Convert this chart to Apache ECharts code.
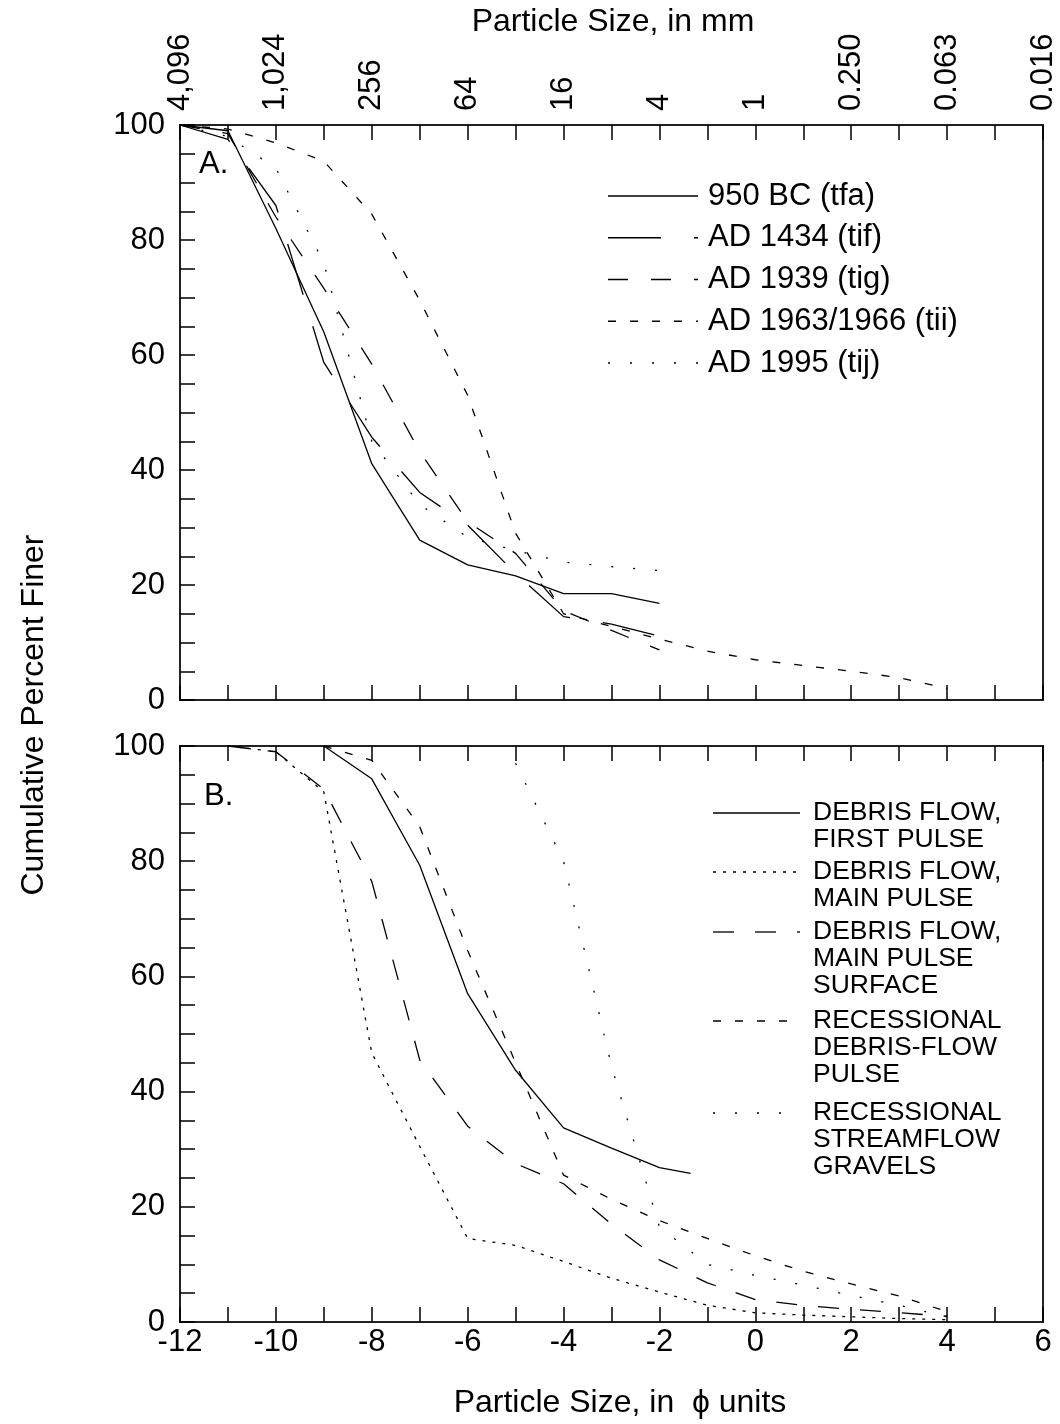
<!DOCTYPE html>
<html><head><meta charset="utf-8">
<script src="https://cdn.jsdelivr.net/npm/echarts@6/dist/echarts.min.js"></script>
<style>html,body{margin:0;padding:0;background:#fff}#c{width:1060px;height:1424px}</style>
</head><body><div id="c"></div>
<script>
const FONT = '"Liberation Sans", Arial, Helvetica, sans-serif';

// ---- tick labels ----
const phiTicks = [-12, -10, -8, -6, -4, -2, 0, 2, 4, 6];
const mmTickLabels = ['4,096', '1,024', '256', '64', '16', '4', '1', '0.250', '0.063', '0.016'];
const percentTicks = [0, 20, 40, 60, 80, 100];

// ---- Panel A data (phi units, cumulative percent finer) ----
const phiA = [-12, -11, -10, -9, -8, -7, -6, -5, -4, -3, -2];
const tfa950BC = [100, 99, 82, 64, 41.1, 27.8, 23.5, 21.6, 18.5, 18.5, 16.8];
const tif1434 = [100, 97.5, 86, 58.7, 45.7, 36.1, 30.4, 22, 14.5, 13.2, 11.1];
const tig1939 = [100, 98.5, 84, 71.6, 58.4, 43.2, 31, 25.5, 15.5, 12.1, 8.7];
const phiA_tii = [-12, -11, -10, -9, -8, -7, -6, -5, -4, -3, -2, -1, 0, 1, 2, 3, 4];
const tii1963 = [100, 99.3, 96.9, 93.7, 84.5, 69.5, 53, 29, 15, 12.8, 10.6, 8.5, 7.0, 6.0, 5.0, 3.9, 2.0];
const tij1995 = [100, 98, 92.5, 76, 45, 34, 28.3, 26, 24, 23.2, 22.5];

// ---- Panel B data ----
const phiB_first = [-9, -8, -7, -6, -5, -4, -3, -2, -1.35];
const firstPulse = [100, 94.3, 79.3, 57, 43.7, 33.7, 30.2, 26.8, 25.8];
const phiB_main = [-11, -10, -9, -8, -7, -6, -5, -4, -3, -2, -1, 0, 1, 2, 3, 4];
const mainPulse = [100, 99, 92, 46.7, 30.5, 14.5, 13.3, 10.5, 7.6, 5.2, 2.9, 1.6, 1.2, 0.9, 0.6, 0.4];
const mainPulseSurface = [100, 99, 92.5, 76.5, 45.5, 34, 27.5, 24, 17, 10.8, 6.8, 3.9, 2.9, 2.2, 1.6, 1.0];
const phiB_rec = [-9, -8, -7, -6, -5, -4, -3, -2, -1, 0, 1, 2, 3, 4];
const recessionalPulse = [100, 97.5, 86, 64.5, 45, 25.5, 21.3, 17.6, 14.5, 11.5, 8.8, 6.6, 4.5, 1.8];
const phiB_stream = [-5, -4, -3, -2, -1, 0, 1, 2, 3, 4];
const streamflowGravels = [97, 80, 44.4, 16.5, 10, 8.1, 6.4, 4.6, 2.9, 0.9];

// ---- line styles ----
const DASH = {
  solid: 'solid',
  tif: [53, 33],
  tig: [20, 23],
  tii: [8, 14],
  tij: [2, 20],
  fineDot: [3, 7],
  surface: [21, 21],
  recPulse: [8, 14],
  stream: [2, 20]
};

function pts(xs, ys) { return xs.map((x, i) => [x, ys[i]]); }
function lineSeries(name, xs, ys, dash, xi, yi) {
  return {
    name, type: 'line', xAxisIndex: xi, yAxisIndex: yi,
    data: pts(xs, ys), showSymbol: false, symbol: 'none', silent: true,
    lineStyle: { color: '#000', width: 1.3, type: dash },
    animation: false, z: 3
  };
}

const axisLine = { show: true, onZero: false, lineStyle: { color: '#222', width: 2 } };
const axisTick = { show: true, inside: true, length: 15, lineStyle: { color: '#000', width: 1.5 } };

function xAx(grid, pos, labelCfg) {
  return {
    type: 'value', gridIndex: grid, position: pos, min: -12, max: 6, interval: 1,
    axisLine, axisTick, splitLine: { show: false },
    axisLabel: labelCfg || { show: false }
  };
}
function yAx(grid) {
  return {
    type: 'value', gridIndex: grid, position: 'left', min: 0, max: 100, interval: 5,
    axisLine, axisTick, splitLine: { show: false },
    axisLabel: {
      show: true, fontSize: 31, fontFamily: FONT, color: '#000', margin: 15,
      showMinLabel: true, showMaxLabel: true,
      formatter: v => percentTicks.includes(v) ? String(v) : ''
    }
  };
}

const topLabel = {
  show: true, rotate: -90, fontSize: 31, fontFamily: FONT, color: '#000', margin: 14,
  showMinLabel: true, showMaxLabel: true,
  formatter: v => { const i = phiTicks.indexOf(v); return i >= 0 ? mmTickLabels[i] : ''; }
};
const bottomLabel = {
  show: true, fontSize: 31, fontFamily: FONT, color: '#000', margin: 5,
  showMinLabel: true, showMaxLabel: true,
  formatter: v => phiTicks.includes(v) ? String(v) : ''
};

function txt(x, y, text, size) {
  return {
    type: 'text', x, y, silent: true,
    style: { text, font: size + 'px ' + FONT, fill: '#000', align: 'left', verticalAlign: 'middle' }
  };
}
function sample(x1, x2, y, dash) {
  return {
    type: 'line', silent: true,
    shape: { x1, y1: y, x2, y2: y },
    style: { stroke: '#000', lineWidth: 1.3, lineDash: dash === 'solid' ? null : dash }
  };
}

const legendA = [
  ['950 BC (tfa)', DASH.solid],
  ['AD 1434 (tif)', DASH.tif],
  ['AD 1939 (tig)', DASH.tig],
  ['AD 1963/1966 (tii)', DASH.tii],
  ['AD 1995 (tij)', DASH.tij]
];
const legendB = [
  [['DEBRIS FLOW,', 'FIRST PULSE'], DASH.solid, 813],
  [['DEBRIS FLOW,', 'MAIN PULSE'], DASH.fineDot, 872],
  [['DEBRIS FLOW,', 'MAIN PULSE', 'SURFACE'], DASH.surface, 932],
  [['RECESSIONAL', 'DEBRIS-FLOW', 'PULSE'], DASH.recPulse, 1021],
  [['RECESSIONAL', 'STREAMFLOW', 'GRAVELS'], DASH.stream, 1113]
];

const graphics = [];
graphics.push({ type: 'text', x: 613, y: 22, silent: true,
  style: { text: 'Particle Size, in mm', font: '32px ' + FONT, fill: '#000', align: 'center', verticalAlign: 'middle' } });
graphics.push({ type: 'text', x: 34, y: 715, rotation: Math.PI / 2, silent: true,
  style: { text: 'Cumulative Percent Finer', font: '32px ' + FONT, fill: '#000', align: 'center', verticalAlign: 'middle' } });
graphics.push({ type: 'text', x: 620, y: 1403, silent: true,
  style: { text: 'Particle Size, in  \u03d5 units', font: '32px ' + FONT, fill: '#000', align: 'center', verticalAlign: 'middle' } });
graphics.push(txt(199, 164, 'A.', 31));
graphics.push(txt(204, 796, 'B.', 31));

legendA.forEach((it, i) => {
  const y = 196 + i * 41.75;
  graphics.push(sample(608, 698, y, it[1]));
  graphics.push(txt(708, y, it[0], 31));
});
legendB.forEach(it => {
  const y = it[2];
  graphics.push(sample(713, 800, y, it[1]));
  it[0].forEach((line, j) => graphics.push(txt(813, y + j * 27, line, 26.5)));
});

const chart = echarts.init(document.getElementById('c'), null, { renderer: 'canvas' });
chart.setOption({
  animation: false,
  backgroundColor: '#fff',
  grid: [
    { left: 180, top: 125, width: 863, height: 575, show: true, borderColor: '#222', borderWidth: 2, backgroundColor: 'transparent' },
    { left: 180, top: 746, width: 863, height: 576, show: true, borderColor: '#222', borderWidth: 2, backgroundColor: 'transparent' }
  ],
  xAxis: [
    xAx(0, 'bottom'),
    xAx(0, 'top', topLabel),
    xAx(1, 'bottom', bottomLabel),
    xAx(1, 'top')
  ],
  yAxis: [yAx(0), yAx(1)],
  series: [
    lineSeries('950 BC (tfa)', phiA, tfa950BC, DASH.solid, 0, 0),
    lineSeries('AD 1434 (tif)', phiA, tif1434, DASH.tif, 0, 0),
    lineSeries('AD 1939 (tig)', phiA, tig1939, DASH.tig, 0, 0),
    lineSeries('AD 1963/1966 (tii)', phiA_tii, tii1963, DASH.tii, 0, 0),
    lineSeries('AD 1995 (tij)', phiA, tij1995, DASH.tij, 0, 0),
    lineSeries('DEBRIS FLOW, FIRST PULSE', phiB_first, firstPulse, DASH.solid, 2, 1),
    lineSeries('DEBRIS FLOW, MAIN PULSE', phiB_main, mainPulse, DASH.fineDot, 2, 1),
    lineSeries('DEBRIS FLOW, MAIN PULSE SURFACE', phiB_main, mainPulseSurface, DASH.surface, 2, 1),
    lineSeries('RECESSIONAL DEBRIS-FLOW PULSE', phiB_rec, recessionalPulse, DASH.recPulse, 2, 1),
    lineSeries('RECESSIONAL STREAMFLOW GRAVELS', phiB_stream, streamflowGravels, DASH.stream, 2, 1)
  ],
  graphic: graphics
});
</script></body></html>
